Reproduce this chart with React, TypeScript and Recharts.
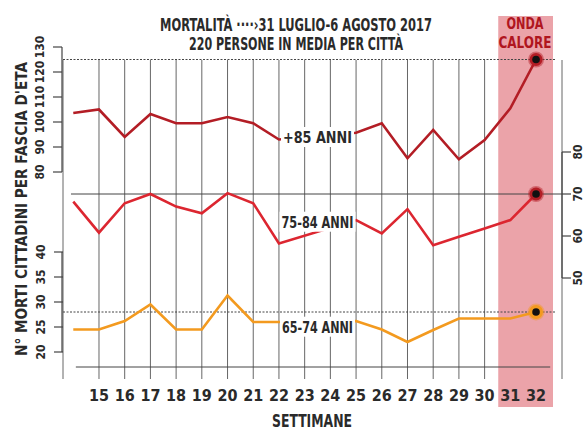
import React from 'react'
import {
  ComposedChart,
  Line,
  XAxis,
  YAxis,
  CartesianGrid,
  ReferenceLine,
  ReferenceArea,
  ReferenceDot,
} from 'recharts'

const weeks = [14, 15, 16, 17, 18, 19, 20, 21, 22, 23, 24, 25, 26, 27, 28, 29, 30, 31, 32]
const over85 = [103.6, 105, 94, 103.2, 99.5, 99.5, 102, 99.5, 93, null, null, 95.7, 99.5, 85.5, 96.8, 85.1, 92.8, 105.5, 125]
const age7584 = [68.2, 60.8, 67.8, 70, 67, 65.4, 70.2, 67.8, 58.2, null, null, 63.8, 60.6, 66.4, 57.8, 59.8, 61.8, 63.8, 70]
const age6574 = [24.5, 24.5, 26.2, 29.5, 24.5, 24.5, 31.3, 26, 26, null, null, 26.2, 24.5, 22, 24.4, 26.7, 26.7, 26.7, 28]

const weekTicks = [15, 16, 17, 18, 19, 20, 21, 22, 23, 24, 25, 26, 27, 28, 29, 30, 31, 32]
const topTicks = [80, 90, 100, 110, 120, 130]
const midTicks = [50, 60, 70, 80]
const lowTicks = [20, 25, 30, 35, 40]

const data = weeks.map((w, i) => ({
  week: w,
  over85: over85[i],
  age7584: age7584[i],
  age6574: age6574[i],
}))

// chart geometry shared by the chart and the overlay
const M = { top: 47, right: 24, bottom: 0, left: 61 }
const W = 587
const H = 430
const X_AXIS_H = 63
const PLOT_LEFT = M.left + 1
const PLOT_RIGHT = W - M.right - 1
const PLOT_H = H - M.top - X_AXIS_H
const TOP_DOMAIN: [number, number] = [2, 130]
const MID_DOMAIN: [number, number] = [28.81, 105]
const LOW_DOMAIN: [number, number] = [17, 81]
const yOf = (d: [number, number], v: number) => M.top + ((d[1] - v) / (d[1] - d[0])) * PLOT_H

const FONT = "'Liberation Sans Narrow', 'DejaVu Sans Condensed', 'Roboto', sans-serif"
const INK = '#2a2a2a'
const RED_DARK = '#b31d25'
const RED = '#dc2630'
const ORANGE = '#f39a1f'
const BAND = '#eba3a9'
const LAST = weeks.length - 1

const XTick = (props: any) => {
  const { x, y, payload } = props
  return (
    <text x={x} y={y + 34} textAnchor="middle" fontSize={16} fontWeight="bold" fill={INK} fontFamily={FONT}>
      {payload.value}
    </text>
  )
}

// bracket-style axis ticks: short mark, label turned 90°
const bracketTick = (side: 'left' | 'right') => (props: any) => {
  const { x, y, payload } = props
  const dir = side === 'left' ? -1 : 1
  return (
    <g>
      <line x1={x + dir * 9} y1={y} x2={x} y2={y} stroke="#444" strokeWidth={1.2} />
      <text
        transform={`translate(${x + dir * (side === 'left' ? 22 : 16)},${y}) rotate(-90)`}
        textAnchor="middle"
        dy="0.36em"
        fontSize={12}
        fontWeight="bold"
        fill={INK}
        fontFamily={FONT}
      >
        {payload.value}
      </text>
    </g>
  )
}

const endDot = (color: string, halo: number) => (props: any) => {
  const { cx, cy, index } = props
  if (index !== LAST) return <g key={`d${index}`} />
  return (
    <g key={`d${index}`}>
      <circle cx={cx} cy={cy} r={halo + 1.5} fill={color} opacity={0.45} />
      <circle cx={cx} cy={cy} r={halo} fill={color} />
      <circle cx={cx} cy={cy} r={3.8} fill="#111" />
    </g>
  )
}

const labelBox = (text: string, w: number) => (props: any) => {
  const { cx, cy } = props
  return (
    <g>
      <rect x={cx - w / 2 - 2} y={cy - 10} width={w + 4} height={20} fill="#fff" />
      <text
        x={cx}
        y={cy + 6}
        textAnchor="middle"
        fontSize={15}
        fontWeight="bold"
        fill={INK}
        fontFamily={FONT}
        textLength={w}
        lengthAdjust="spacingAndGlyphs"
      >
        {text}
      </text>
    </g>
  )
}

export default function App() {
  const brackets = [
    { x: PLOT_LEFT, y1: yOf(TOP_DOMAIN, topTicks[topTicks.length - 1]), y2: yOf(TOP_DOMAIN, topTicks[0]) },
    { x: PLOT_LEFT, y1: yOf(LOW_DOMAIN, lowTicks[lowTicks.length - 1]), y2: yOf(LOW_DOMAIN, lowTicks[0]) },
    { x: PLOT_RIGHT, y1: yOf(MID_DOMAIN, midTicks[midTicks.length - 1]), y2: yOf(MID_DOMAIN, midTicks[0]) },
  ]
  return (
    <div style={{ position: 'absolute', left: 0, top: 0, width: W, height: H, background: '#fff' }}>
      <ComposedChart width={W} height={H} data={data} margin={M}>
        <ReferenceArea
          x1={30.53}
          x2={32.66}
          y1={-14}
          y2={142.4}
          yAxisId="top"
          fill={BAND}
          fillOpacity={1}
          stroke="none"
          ifOverflow="visible"
        />
        <CartesianGrid y={60} height={319} horizontal={false} stroke="#555" strokeWidth={0.9} />
        <XAxis
          dataKey="week"
          type="number"
          domain={[13.6, 33.01]}
          allowDataOverflow
          ticks={weekTicks}
          interval={0}
          axisLine={false}
          tickLine={false}
          tickSize={0}
          tickMargin={0}
          height={X_AXIS_H}
          tick={XTick}
        />
        <YAxis
          yAxisId="top"
          domain={TOP_DOMAIN}
          allowDataOverflow
          ticks={topTicks}
          interval={0}
          width={1}
          axisLine={false}
          tickLine={false}
          tickSize={0}
          tickMargin={0}
          tick={bracketTick('left')}
        />
        <YAxis
          yAxisId="low"
          domain={LOW_DOMAIN}
          allowDataOverflow
          ticks={lowTicks}
          interval={0}
          width={1}
          axisLine={false}
          tickLine={false}
          tickSize={0}
          tickMargin={0}
          tick={bracketTick('left')}
        />
        <YAxis
          yAxisId="mid"
          orientation="right"
          domain={MID_DOMAIN}
          allowDataOverflow
          ticks={midTicks}
          interval={0}
          width={1}
          axisLine={false}
          tickLine={false}
          tickSize={0}
          tickMargin={0}
          tick={bracketTick('right')}
        />

        {/* reference levels of the last week */}
        <ReferenceLine yAxisId="top" segment={[{ x: 13.6, y: 125 }, { x: 32.74, y: 125 }]} stroke="#444" strokeDasharray="2 1.5" ifOverflow="visible" />
        <ReferenceLine yAxisId="mid" segment={[{ x: 13.91, y: 70 }, { x: 33.01, y: 70 }]} stroke="#444" ifOverflow="visible" />
        <ReferenceLine yAxisId="low" segment={[{ x: 13.6, y: 28 }, { x: 32.74, y: 28 }]} stroke="#444" strokeDasharray="2 1.5" ifOverflow="visible" />
        <ReferenceLine yAxisId="low" segment={[{ x: 14.1, y: 17 }, { x: 32.55, y: 17 }]} stroke="#444" ifOverflow="visible" />

        <Line yAxisId="top" dataKey="over85" type="linear" stroke={RED_DARK} strokeWidth={2.6} connectNulls dot={endDot(RED_DARK, 6.5)} activeDot={false} isAnimationActive={false} />
        <Line yAxisId="mid" dataKey="age7584" type="linear" stroke={RED} strokeWidth={2.6} connectNulls dot={endDot(RED_DARK, 6.5)} activeDot={false} isAnimationActive={false} />
        <Line yAxisId="low" dataKey="age6574" type="linear" stroke={ORANGE} strokeWidth={2.6} connectNulls dot={endDot(ORANGE, 7)} activeDot={false} isAnimationActive={false} />

        <ReferenceDot yAxisId="top" x={23.5} y={94} r={1} shape={labelBox('+85 ANNI', 69)} ifOverflow="visible" />
        <ReferenceDot yAxisId="mid" x={23.5} y={63.4} r={1} shape={labelBox('75-84 ANNI', 72)} ifOverflow="visible" />
        <ReferenceDot yAxisId="low" x={23.5} y={25.06} r={1} shape={labelBox('65-74 ANNI', 71)} ifOverflow="visible" />
      </ComposedChart>

      <svg width={W} height={H} style={{ position: 'absolute', left: 0, top: 0, pointerEvents: 'none' }} fontFamily={FONT} fontWeight="bold">
        {brackets.map((b, i) => (
          <line key={i} x1={b.x} x2={b.x} y1={b.y1} y2={b.y2} stroke="#444" strokeWidth={1.2} />
        ))}
        <text x={296} y={31} textAnchor="middle" fontSize={18} fill={INK} textLength={272} lengthAdjust="spacingAndGlyphs">
          MORTALITÀ ····›31 LUGLIO-6 AGOSTO 2017
        </text>
        <text x={296} y={50} textAnchor="middle" fontSize={18} fill={INK} textLength={214} lengthAdjust="spacingAndGlyphs">
          220 PERSONE IN MEDIA PER CITTÀ
        </text>
        <text x={525} y={29} textAnchor="middle" fontSize={15} fill="#b0151e" textLength={37} lengthAdjust="spacingAndGlyphs">
          ONDA
        </text>
        <text x={525} y={48} textAnchor="middle" fontSize={15} fill="#b0151e" textLength={53} lengthAdjust="spacingAndGlyphs">
          CALORE
        </text>
        <text
          transform="translate(21,209) rotate(-90)"
          textAnchor="middle"
          dy="0.36em"
          fontSize={16}
          fill={INK}
          textLength={294}
          lengthAdjust="spacingAndGlyphs"
        >
          N° MORTI CITTADINI PER FASCIA D'ETA
        </text>
        <text x={312} y={427} textAnchor="middle" fontSize={17} fill={INK} textLength={80} lengthAdjust="spacingAndGlyphs">
          SETTIMANE
        </text>
      </svg>
    </div>
  )
}
